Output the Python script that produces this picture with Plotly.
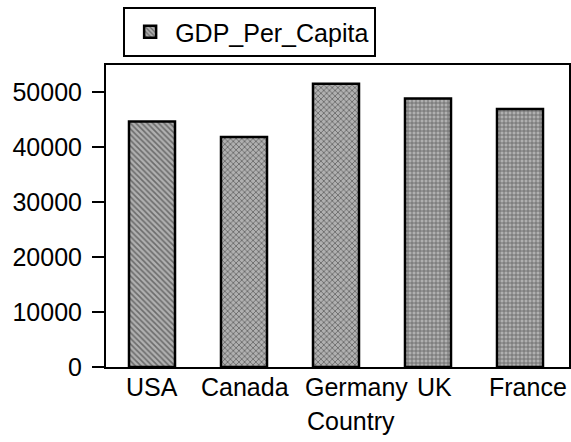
import plotly.graph_objects as go

countries = ["USA", "Canada", "Germany", "UK", "France"]
gdp_per_capita = [44700, 41900, 51600, 48900, 47000]
y_ticks = [0, 10000, 20000, 30000, 40000, 50000]
label_shift = [0, 1, 20, 6, 8]  # horizontal nudges of category labels (px)

fig = go.Figure()
fig.add_trace(go.Bar(
    x=countries,
    y=gdp_per_capita,
    name="GDP_Per_Capita",
    showlegend=True,
    marker=dict(
        color="#a0a0a0",
        line=dict(color="black", width=2.5),
        pattern=dict(shape=["\\", "x", "x", "+", "+"], fgcolor="#262626",
                     bgcolor="#b0b0b0", size=4, solidity=0.4),
    ),
))

fig.update_layout(
    width=571, height=442,
    margin=dict(l=106, r=2, t=65, b=75, autoexpand=False),
    paper_bgcolor="white", plot_bgcolor="white",
    font=dict(family="Liberation Sans, Arial, sans-serif", size=25, color="black"),
    bargap=0.5,
    showlegend=True,
    legend=dict(
        x=0.037, y=1.192, xanchor="left", yanchor="top",
        bordercolor="black", borderwidth=2, bgcolor="white",
        font=dict(size=25), itemwidth=40,
    ),
    xaxis=dict(
        showline=True, linecolor="black", linewidth=2, mirror=True,
        ticks="", showgrid=False, automargin=False,
        showticklabels=False,
    ),
    yaxis=dict(
        range=[0, 55000],
        tickvals=y_ticks,
        ticktext=[str(v) for v in y_ticks],
        showline=True, linecolor="black", linewidth=2, mirror=True,
        ticks="outside", ticklen=12, tickwidth=2, tickcolor="black",
        showgrid=False, zeroline=False, automargin=False,
        tickfont=dict(size=25), ticklabelstandoff=5,
    ),
)

for c, s in zip(countries, label_shift):
    fig.add_annotation(x=c, y=0, xref="x", yref="paper", text=c, showarrow=False,
                       xanchor="center", yanchor="top", xshift=s, yshift=-4,
                       font=dict(size=25))

fig.add_annotation(x=0.529, y=0, xref="paper", yref="paper", text="Country",
                   showarrow=False, xanchor="center", yanchor="top", yshift=-38,
                   font=dict(size=25))

fig.add_shape(type="line", xref="paper", yref="y", x0=-0.026, x1=0, y0=0, y1=0,
              line=dict(color="black", width=2))

fig.write_html("out.html", config={"displayModeBar": False},
               post_script="document.body.style.margin='0';document.body.style.overflow='hidden';")
